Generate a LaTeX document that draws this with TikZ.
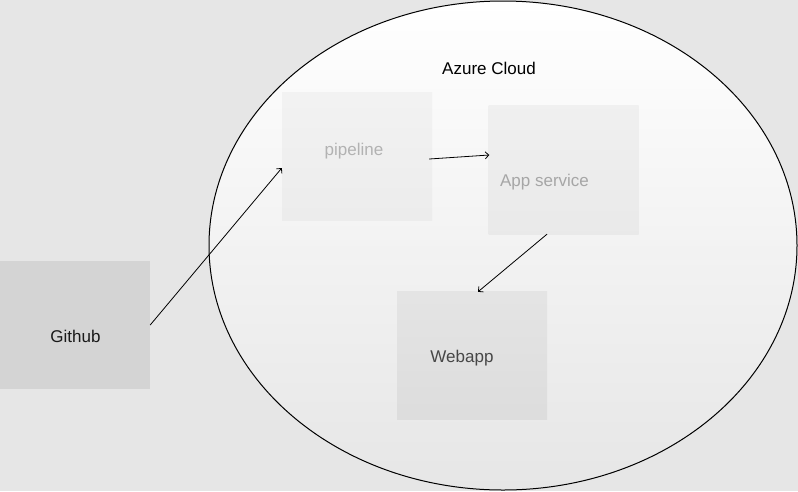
\documentclass[tikz,border=0pt]{standalone}
\usepackage{fontspec}
\setmainfont{Liberation Sans}
\usetikzlibrary{shapes.geometric,arrows.meta}
\definecolor{bggray}{HTML}{E6E6E6}
\tikzset{
    box/.style={rectangle, inner sep=0pt, minimum width=150pt, minimum height=128pt},
    lbl/.style={font=\fontsize{17}{20}\selectfont, inner sep=0pt},
    conn/.style={-{Straight Barb[length=3.5pt,width=7pt]}, line width=0.8pt}
}
\begin{document}
\begin{tikzpicture}[x=1pt, y=-1pt]
    \fill[bggray] (0,0) rectangle (798,491);
    \useasboundingbox (0,0) rectangle (798,491);
    \node[ellipse, draw=black, line width=1pt, top color=white, bottom color=bggray,
          minimum width=588pt, minimum height=489pt, inner sep=0pt] (cloud) at (503,245.5) {};
    \node[lbl] (cloudtxt) at (489,68) {Azure Cloud};
    \node[box, top color=black!5, bottom color=black!7.5] (pipeline) at (357,156.5) {};
    \node[box, top color=black!6, bottom color=black!8.5, minimum height=129pt] (app) at (563.5,169.5) {};
    \node[box, top color=black!10.5, bottom color=black!13.5] (webapp) at (472,355) {};
    \node[box, fill=black!17] (github) at (75,325) {};
    \node[lbl, text=black!30] (pipelinetxt) at (354,151) {pipeline};
    \node[lbl, text=black!35] (apptxt) at (544.5,182) {App service};
    \node[lbl, text=black!72] (webapptxt) at (462,358) {Webapp};
    \node[lbl, text=black!90] (githubtxt) at (75.5,336) {Github};
    % connectors
    \draw[conn] (github.east) -- ([yshift=-11.5pt]pipeline.west);
    \draw[conn] ([xshift=-3pt,yshift=-2.5pt]pipeline.east) -- ([xshift=1pt,yshift=14.5pt]app.west);
    \draw[conn] ([xshift=-16.5pt]app.south) -- ([xshift=6pt,yshift=-1pt]webapp.north);
\end{tikzpicture}
\end{document}
